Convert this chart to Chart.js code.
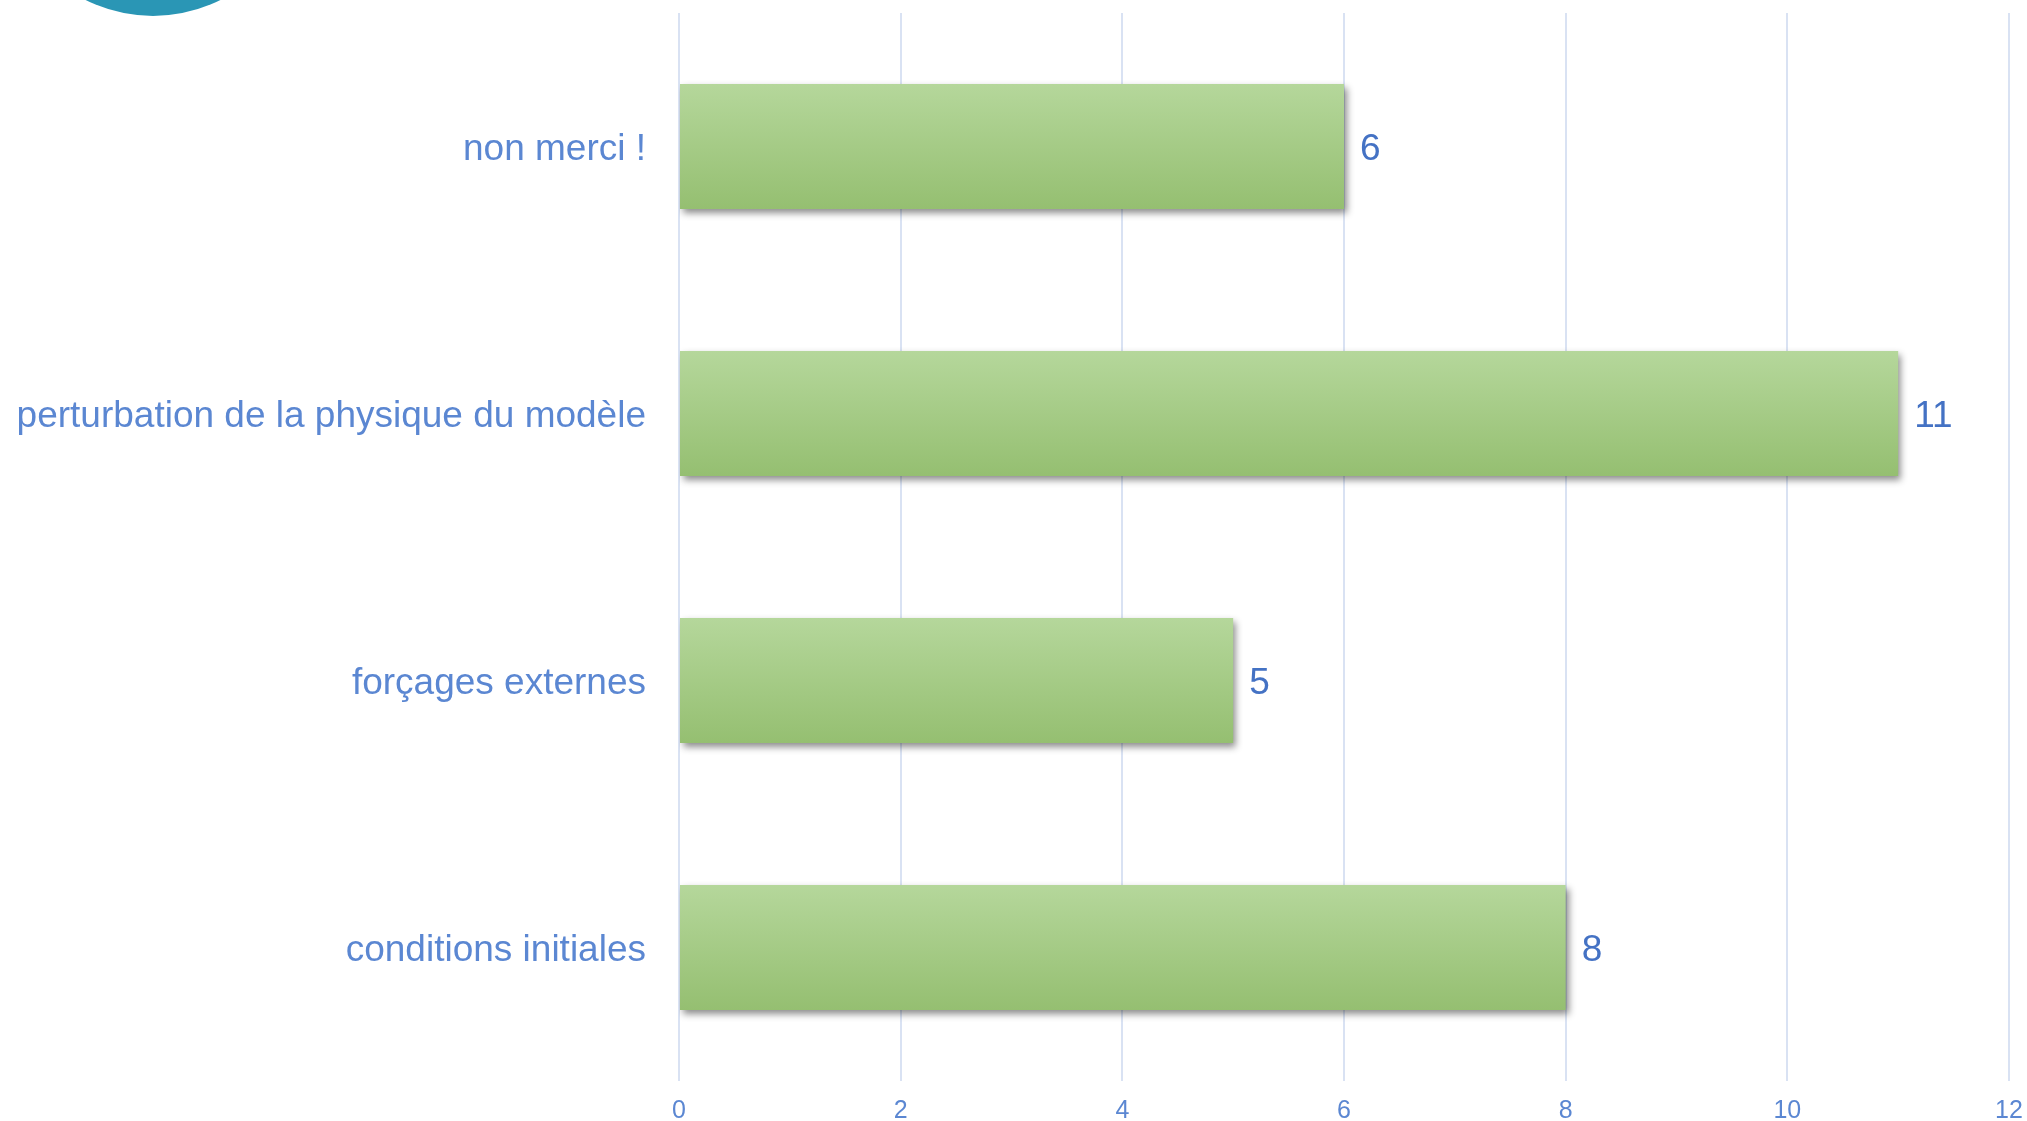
<!DOCTYPE html>
<html>
<head>
<meta charset="utf-8">
<script src="https://cdn.jsdelivr.net/npm/chart.js@4"></script>
<style>
    html, body { margin: 0; padding: 0; background: #fff; overflow: hidden; }
    #wrap { position: relative; width: 2027px; height: 1121px; }
    #wrap canvas { display: block; }
    #blob {
        position: absolute; left: 3px; top: -284px;
        width: 300px; height: 300px; border-radius: 50%;
        background: #2a96b5;
    }
</style>
</head>
<body>
<div id="wrap">
    <canvas id="chart" width="2027" height="1121"></canvas>
    <div id="blob"></div>
</div>
<script>
    const categories = ['non merci !', 'perturbation de la physique du modèle', 'forçages externes', 'conditions initiales'];
    const values = [6, 11, 5, 8];
    const xTicks = [0, 2, 4, 6, 8, 10, 12];

    const labelBlue = '#5b87d2';
    const valueBlue = '#4472c4';

    // one vertical gradient per bar, placed on the bar's own row
    function barGradient(context) {
        const chart = context.chart;
        const y = chart.scales.y;
        if (!y || context.dataIndex === undefined) return '#a6cc86';
        const center = y.getPixelForValue(context.dataIndex);
        const step = Math.abs(y.getPixelForValue(1) - y.getPixelForValue(0));
        if (!isFinite(center) || !isFinite(step) || step === 0) return '#a6cc86';
        const h = step * 0.468 / 2;
        const g = chart.ctx.createLinearGradient(0, center - h, 0, center + h);
        g.addColorStop(0, '#b5d79b');
        g.addColorStop(1, '#95bf71');
        return g;
    }

    const barShadow = {
        id: 'barShadow',
        beforeDatasetsDraw(chart) {
            const ctx = chart.ctx;
            ctx.save();
            ctx.shadowColor = 'rgba(0, 0, 0, 0.45)';
            ctx.shadowBlur = 7;
            ctx.shadowOffsetX = 3;
            ctx.shadowOffsetY = 4;
        },
        afterDatasetsDraw(chart) {
            chart.ctx.restore();
        }
    };

    const valueLabels = {
        id: 'valueLabels',
        afterDraw(chart) {
            const ctx = chart.ctx;
            const meta = chart.getDatasetMeta(0);
            ctx.save();
            ctx.font = '37px "Liberation Sans", Arial, sans-serif';
            ctx.fillStyle = valueBlue;
            ctx.textAlign = 'left';
            ctx.textBaseline = 'middle';
            meta.data.forEach((bar, i) => {
                ctx.fillText(String(values[i]), bar.x + 16, bar.y + 3);
            });
            ctx.restore();
        }
    };

    new Chart(document.getElementById('chart').getContext('2d'), {
        type: 'bar',
        data: {
            labels: categories,
            datasets: [{
                data: values,
                backgroundColor: barGradient,
                borderWidth: 0,
                barPercentage: 0.468,
                categoryPercentage: 1
            }]
        },
        options: {
            indexAxis: 'y',
            responsive: false,
            animation: false,
            layout: { padding: { top: 13, right: 18, left: 0, bottom: 0 } },
            plugins: {
                legend: { display: false },
                tooltip: { enabled: false }
            },
            scales: {
                x: {
                    min: 0,
                    max: 12,
                    afterBuildTicks: scale => { scale.ticks = xTicks.map(v => ({ value: v })); },
                    afterFit: scale => {
                        scale.height = 40;
                        scale.paddingLeft = 0;
                        scale.paddingRight = 0;
                    },
                    border: { display: false },
                    grid: { color: '#d9e2f3', lineWidth: 2, drawTicks: false },
                    ticks: {
                        color: labelBlue,
                        padding: 15,
                        font: { family: '"Liberation Sans", Arial, sans-serif', size: 25 }
                    }
                },
                y: {
                    afterFit: scale => {
                        scale.width = 679;
                        scale.paddingTop = 0;
                        scale.paddingBottom = 0;
                    },
                    border: { display: false },
                    grid: { display: false, drawTicks: false },
                    ticks: {
                        color: labelBlue,
                        padding: 33,
                        labelOffset: 3,
                        font: { family: '"Liberation Sans", Arial, sans-serif', size: 37 }
                    }
                }
            }
        },
        plugins: [barShadow, valueLabels]
    });
</script>
</body>
</html>
